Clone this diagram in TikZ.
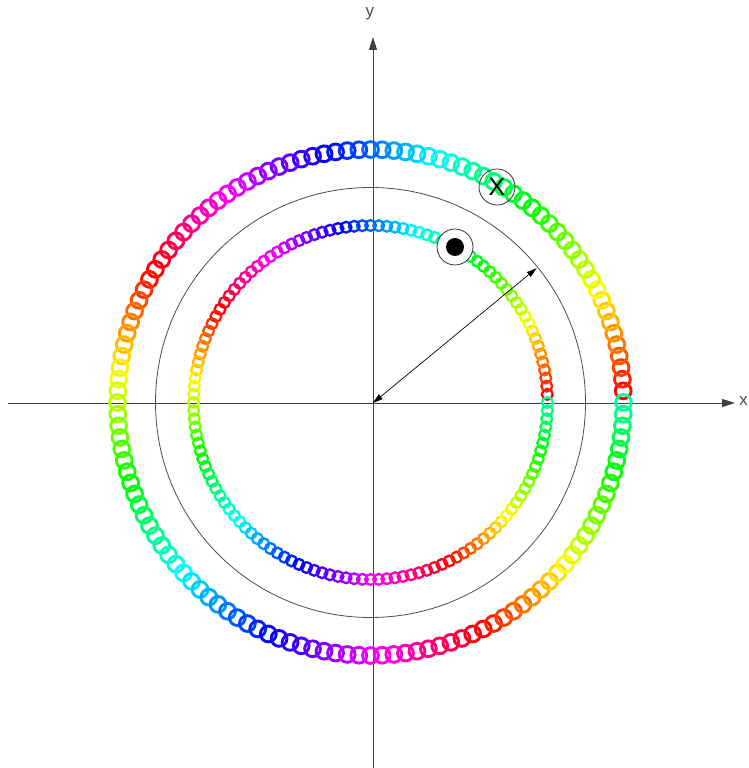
\documentclass[tikz,border=0pt]{standalone}
\usepackage{fontspec}
\setmainfont{Liberation Sans}
\usetikzlibrary{arrows.meta,calc}
\tikzset{
  axis/.style={draw=black!75, line width=0.9pt, -{Triangle[length=13pt,width=8pt]}},
  bead/.style={line width=2.9pt},
  smallbead/.style={line width=2.3pt},
  marker/.style={draw=black!80, line width=0.8pt, circle, minimum size=36pt, inner sep=0pt},
  axislabel/.style={text=black!70, font=\fontsize{17}{17}\selectfont, inner sep=0pt}
}
\begin{document}
\begin{tikzpicture}[x=1pt,y=1pt]
	\useasboundingbox (-373,-365) rectangle (375,403);
	\coordinate (O) at (0,0);
	\coordinate (C) at (-2.5,0.5);
	\coordinate (xs) at (-365,0);
	\coordinate (xe) at (362,0);
	\coordinate (ys) at (0,-366);
	\coordinate (ye) at (0,366);
	\coordinate (R) at (39.5:212);
	\draw[axis] (xs)--(xe);
	\draw[axis] (ys)--(ye);
	\node[axislabel] (ylab) at (-3,389) {y};
	\node[axislabel, anchor=east] (xlab) at (375,2) {x};
	\draw[black!70, line width=0.8pt] (C) circle (215);
	\foreach \k in {1,...,136}{
		\pgfmathsetmacro{\ang}{\k/136*360}
		\pgfmathsetmacro{\hue}{mod(2.45*\ang+355,360)}
		\definecolor{beadcol}{Hsb}{\hue,1,1}
		\draw[bead, beadcol] ($(C)+(\ang:253)$) circle (7.9);
		\draw[smallbead, beadcol] ($(C)+(\ang:177)$) circle (5.4);
	}
	\draw[{Triangle[length=10pt,width=6pt]}-{Triangle[length=10pt,width=6pt]}, line width=0.7pt] (O)--(R);
	\node[marker, font=\fontsize{25}{25}\selectfont] (cross) at (124,216) {X};
	\node[marker, fill=white] (dot) at (82,156) {};
	\fill[black] (dot.center) circle (9);
\end{tikzpicture}
\end{document}
